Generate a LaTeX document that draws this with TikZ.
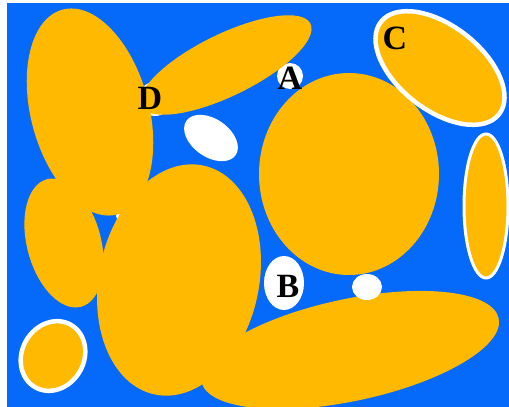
\documentclass[tikz,border=0pt]{standalone}
\usepackage{fontspec}
\setmainfont{Liberation Serif}
\definecolor{bgblue}{RGB}{5,105,250}
\definecolor{grain}{RGB}{255,185,0}
\tikzset{
  grainfill/.style={fill=grain},
  poreshape/.style={fill=white},
  rimmed/.style={fill=grain, draw=white, line width=4.5pt},
  lbl/.style={font=\fontsize{34}{34}\selectfont\bfseries, text=black, inner sep=0pt}
}
\begin{document}
\begin{tikzpicture}[x=1pt,y=-1pt]
\useasboundingbox (0,0) rectangle (509,407);
\fill[white] (0,0) rectangle (509,407);
\fill[bgblue] (7,3) rectangle (509,407);
% hidden white pores (visible only in gaps)
\fill[poreshape] (290,76) circle[radius=13pt];
\fill[poreshape] (155,99) circle[radius=17pt];
\foreach \p in {(63,180),(120,216),(100,288),(152,183),(226,349),(200,379)}
  \fill[poreshape] \p circle[radius=4pt];
% grains
\fill[grainfill, rotate around={15:(90,112)}] (90,112) ellipse[x radius=59pt, y radius=106pt];
\fill[grainfill, rotate around={26:(226,65)}] (226,65) ellipse[x radius=94pt, y radius=31pt];
\fill[grainfill] (349,174) ellipse[x radius=90pt, y radius=101pt];
\fill[grainfill, rotate around={15:(64,243)}] (64,243) ellipse[x radius=37pt, y radius=66pt];
\fill[grainfill, rotate around={-12:(179,280)}] (179,280) ellipse[x radius=80pt, y radius=117pt];
\fill[grainfill, rotate around={12:(350,350)}] (350,350) ellipse[x radius=152pt, y radius=51pt];
% rimmed grains
\filldraw[rimmed, rotate around={-38:(440,68)}] (440,68) ellipse[x radius=75pt, y radius=42pt];
\filldraw[rimmed, line width=3pt] (486,206) ellipse[x radius=22pt, y radius=72pt];
\filldraw[rimmed, rotate around={-30:(53,356)}] (53,356) ellipse[x radius=31pt, y radius=36pt];
% white pores
\fill[poreshape, rotate around={-35:(211,138)}] (211,138) ellipse[x radius=30pt, y radius=19pt];
\fill[poreshape] (284,283) ellipse[x radius=20pt, y radius=27pt];
\fill[poreshape] (367,287) ellipse[x radius=15pt, y radius=13pt];
% labels
\node[lbl] (lA) at (290,78) {A};
\node[lbl] (lB) at (288,286) {B};
\node[lbl] (lC) at (395,38) {C};
\node[lbl] (lD) at (150,98) {D};
\end{tikzpicture}
\end{document}
